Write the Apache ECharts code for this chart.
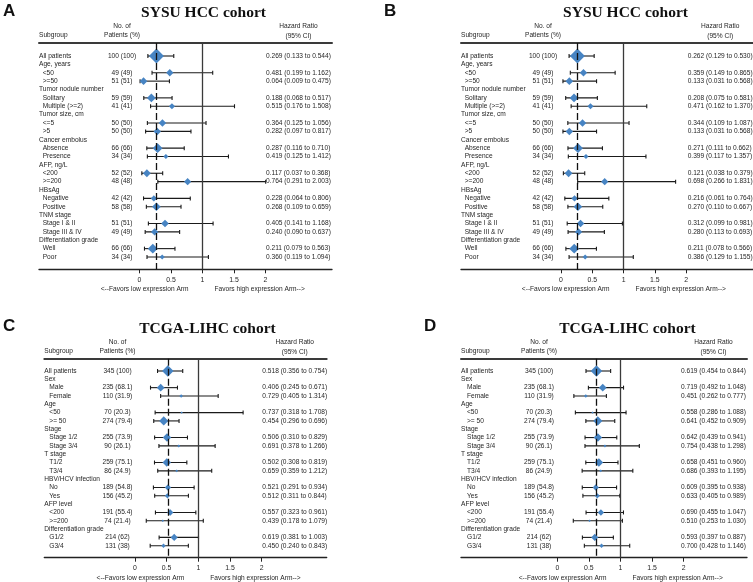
<!DOCTYPE html>
<html><head><meta charset="utf-8">
<script src="https://cdn.jsdelivr.net/npm/echarts@6/dist/echarts.min.js"></script>
<style>html,body{margin:0;padding:0;background:#fff}#c{width:753px;height:582px}</style>
</head><body><div id="c"></div>
<script>
// ---------- data ----------
const tickValues = [0, 0.5, 1, 1.5, 2];

const sysuSubgroups = ['All patients','Age, years','<50','>=50','Tumor nodule number','Solitary','Multiple (>=2)','Tumor size, cm','<=5','>5','Cancer embolus','Absence','Presence','AFP, ng/L','<200','>=200','HBsAg','Negative','Positive','TNM stage','Stage I & II','Stage III & IV','Differentiation grade','Well','Poor'];
const sysuN   = [100,null,49,51,null,59,41,null,50,50,null,66,34,null,52,48,null,42,58,null,51,49,null,66,34];
const sysuPct = [100,null,49,51,null,59,41,null,50,50,null,66,34,null,52,48,null,42,58,null,51,49,null,66,34];

const sysuA_HR = [0.269,null,0.481,0.064,null,0.188,0.515,null,0.364,0.282,null,0.287,0.419,null,0.117,0.764,null,0.228,0.268,null,0.405,0.240,null,0.211,0.360];
const sysuA_Lo = [0.133,null,0.199,0.009,null,0.068,0.176,null,0.125,0.097,null,0.116,0.125,null,0.037,0.291,null,0.064,0.109,null,0.141,0.090,null,0.079,0.119];
const sysuA_Hi = [0.544,null,1.162,0.475,null,0.517,1.508,null,1.056,0.817,null,0.710,1.412,null,0.368,2.003,null,0.806,0.659,null,1.168,0.637,null,0.563,1.094];

const sysuB_HR = [0.262,null,0.359,0.133,null,0.208,0.471,null,0.344,0.133,null,0.271,0.399,null,0.121,0.698,null,0.216,0.270,null,0.312,0.280,null,0.211,0.386];
const sysuB_Lo = [0.129,null,0.149,0.031,null,0.075,0.162,null,0.109,0.031,null,0.111,0.117,null,0.038,0.266,null,0.061,0.110,null,0.099,0.113,null,0.078,0.129];
const sysuB_Hi = [0.530,null,0.865,0.568,null,0.581,1.370,null,1.087,0.568,null,0.662,1.357,null,0.379,1.831,null,0.764,0.667,null,0.981,0.693,null,0.566,1.155];

const tcgaSubgroups = ['All patients','Sex','Male','Female','Age','<50','>= 50','Stage','Stage 1/2','Stage 3/4','T stage','T1/2','T3/4','HBV/HCV infection','No','Yes','AFP level','<200','>=200','Differentiation grade','G1/2','G3/4'];
const tcgaN   = [345,null,235,110,null,70,274,null,255,90,null,259,86,null,189,156,null,191,74,null,214,131];
const tcgaPct = [100,null,68.1,31.9,null,20.3,79.4,null,73.9,26.1,null,75.1,24.9,null,54.8,45.2,null,55.4,21.4,null,62,38];

const tcgaC_HR = [0.518,null,0.406,0.729,null,0.737,0.454,null,0.506,0.691,null,0.502,0.659,null,0.521,0.512,null,0.557,0.439,null,0.619,0.450];
const tcgaC_Lo = [0.356,null,0.245,0.405,null,0.318,0.296,null,0.310,0.378,null,0.308,0.359,null,0.291,0.311,null,0.323,0.178,null,0.381,0.240];
const tcgaC_Hi = [0.754,null,0.671,1.314,null,1.708,0.696,null,0.829,1.266,null,0.819,1.212,null,0.934,0.844,null,0.961,1.079,null,1.003,0.843];

const tcgaD_HR = [0.619,null,0.719,0.451,null,0.558,0.641,null,0.642,0.754,null,0.658,0.686,null,0.609,0.633,null,0.690,0.510,null,0.593,0.700];
const tcgaD_Lo = [0.454,null,0.492,0.262,null,0.286,0.452,null,0.439,0.438,null,0.451,0.393,null,0.395,0.405,null,0.455,0.253,null,0.397,0.428];
const tcgaD_Hi = [0.844,null,1.048,0.777,null,1.088,0.909,null,0.941,1.298,null,0.960,1.195,null,0.938,0.989,null,1.047,1.030,null,0.887,1.146];

// ---------- layout ----------
const SANS = '"Liberation Sans", Arial, Helvetica, sans-serif';
const SERIF = '"Liberation Serif", "Times New Roman", serif';
const TXT = '#262626';
const BLUE = '#4784c3';
const FS = 6.6;

const panels = [
  {letter:'A', letterX:3,   title:'SYSU HCC cohort', titleX:203.5, labels:sysuSubgroups, n:sysuN, pct:sysuPct, hr:sysuA_HR, lo:sysuA_Lo, hi:sysuA_Hi,
   L:39, R:332, top:43, bottom:269.3, zero:139.5, unit:63, row0:56, step:8.375, countX:122, ciX:266, indent:3.7, maxSize:15},
  {letter:'B', letterX:384, title:'SYSU HCC cohort', titleX:625.5, labels:sysuSubgroups, n:sysuN, pct:sysuPct, hr:sysuB_HR, lo:sysuB_Lo, hi:sysuB_Hi,
   L:461, R:753, top:43, bottom:269.3, zero:561, unit:62.6, row0:56, step:8.375, countX:543, ciX:687.7, indent:3.7, maxSize:15},
  {letter:'C', letterX:3,   title:'TCGA-LIHC cohort', titleX:207.5, labels:tcgaSubgroups, n:tcgaN, pct:tcgaPct, hr:tcgaC_HR, lo:tcgaC_Lo, hi:tcgaC_Hi,
   L:44.3, R:326.7, top:358.8, bottom:557.7, zero:135, unit:63.3, row0:371, step:8.32, countX:117.5, ciX:262.3, indent:5, maxSize:11.5},
  {letter:'D', letterX:424, title:'TCGA-LIHC cohort', titleX:627.5, labels:tcgaSubgroups, n:tcgaN, pct:tcgaPct, hr:tcgaD_HR, lo:tcgaD_Lo, hi:tcgaD_Hi,
   L:461, R:747, top:358.8, bottom:557.7, zero:557.3, unit:63.2, row0:371, step:8.32, countX:539, ciX:681, indent:6, maxSize:11.5}
];

function f3(v){ return v.toFixed(3); }
function txt(text, x, y, align, font, fill){
  return {type:'text', x:x, y:y, silent:true,
    style:{text:text, font:font, fill:fill||TXT, align:align, textAlign:align, verticalAlign:'middle', textVerticalAlign:'middle'}};
}

const grids=[], xAxes=[], yAxes=[], series=[], graphics=[];

panels.forEach((p, k) => {
  const xmin = (p.L - p.zero)/p.unit, xmax = (p.R - p.zero)/p.unit;
  const ymin = -(p.row0 - p.top)/p.step, ymax = (p.bottom - p.row0)/p.step;
  grids.push({left:p.L, top:p.top, width:p.R - p.L, height:p.bottom - p.top, containLabel:false});
  const xi = xAxes.length;
  xAxes.push({gridIndex:k, type:'value', min:xmin, max:xmax, position:'bottom',
    axisLine:{show:true, onZero:false, lineStyle:{color:'#222', width:1.3}},
    axisTick:{show:true, customValues:tickValues, length:4, lineStyle:{color:'#222', width:1}},
    axisLabel:{show:true, customValues:tickValues, formatter:v => String(v), fontSize:6.9, color:TXT, fontFamily:SANS, margin:7},
    splitLine:{show:false}});
  xAxes.push({gridIndex:k, type:'value', min:xmin, max:xmax, position:'top',
    axisLine:{show:true, onZero:false, lineStyle:{color:'#3a3a3a', width:2}},
    axisTick:{show:false}, axisLabel:{show:false}, splitLine:{show:false}});
  const yi = yAxes.length;
  yAxes.push({gridIndex:k, type:'value', inverse:true, min:ymin, max:ymax, show:false});

  // text rows
  series.push({type:'custom', xAxisIndex:xi, yAxisIndex:yi, silent:true, clip:false, z:5,
    data:p.labels.map((lab,i) => [0, i]),
    encode:{x:0, y:1},
    renderItem:(params, api) => {
      const i = api.value(1);
      const y = api.coord([0, i])[1];
      const has = p.hr[i] != null;
      const font = FS + 'px ' + SANS;
      const ch = [txt(p.labels[i], p.L + (has && i > 0 ? p.indent : 0), y, 'left', font)];
      if (p.n[i] != null) ch.push(txt(p.n[i] + ' (' + p.pct[i] + ')', p.countX, y, 'center', font));
      if (has) ch.push(txt(f3(p.hr[i]) + ' (' + f3(p.lo[i]) + ' to ' + f3(p.hi[i]) + ')', p.ciX, y, 'left', font));
      return {type:'group', children:ch};
    }});

  // CI whiskers
  const ciData = [];
  p.hr.forEach((v,i) => { if (v != null) ciData.push([p.lo[i], p.hi[i], i]); });
  series.push({type:'custom', xAxisIndex:xi, yAxisIndex:yi, silent:true, clip:false, z:3,
    data:ciData, encode:{x:[0,1], y:2},
    renderItem:(params, api) => {
      const a = api.coord([api.value(0), api.value(2)]);
      const b = api.coord([api.value(1), api.value(2)]);
      const st = {stroke:'#1a1a1a', lineWidth:1.1};
      return {type:'group', children:[
        {type:'line', shape:{x1:a[0], y1:a[1], x2:b[0], y2:b[1]}, style:st},
        {type:'line', shape:{x1:a[0], y1:a[1]-2, x2:a[0], y2:a[1]+2}, style:st},
        {type:'line', shape:{x1:b[0], y1:b[1]-2, x2:b[0], y2:b[1]+2}, style:st}
      ]};
    }});

  // point estimates (diamonds sized by share of patients)
  const ptData = [];
  p.hr.forEach((v,i) => { if (v != null) ptData.push([v, i, p.maxSize * p.pct[i] / 100]); });
  series.push({type:'scatter', xAxisIndex:xi, yAxisIndex:yi, silent:true, z:4,
    symbol:'diamond', symbolSize:val => val[2], itemStyle:{color:BLUE, opacity:1},
    data:ptData,
    markLine:{silent:true, symbol:'none', label:{show:false}, animation:false,
      data:[
        {xAxis:1, lineStyle:{color:'#3a3a3a', width:1.3, type:'solid'}},
        {xAxis:p.hr[0], lineStyle:{color:'#111', width:1.3, type:[7,3]}}
      ]}
  });

  // header, title, letter, footer texts
  const hf = FS + 'px ' + SANS;
  graphics.push(txt(p.letter, p.letterX, p.top - 32, 'left', 'bold 17px ' + SANS, '#111'));
  graphics.push(txt(p.title, p.titleX, p.top - 30, 'center', 'bold 15.5px ' + SERIF, '#111'));
  graphics.push(txt('Subgroup', p.L, p.top - 7.5, 'left', hf));
  graphics.push(txt('No. of', p.countX, p.top - 17, 'center', hf));
  graphics.push(txt('Patients (%)', p.countX, p.top - 7.5, 'center', hf));
  graphics.push(txt('Hazard Ratio', p.ciX + 32.5, p.top - 16.5, 'center', hf));
  graphics.push(txt('(95% CI)', p.ciX + 32.5, p.top - 6.5, 'center', hf));
  graphics.push(txt('<--Favors low expression Arm', p.zero + p.unit - 14, p.bottom + 20, 'right', hf));
  graphics.push(txt('Favors high expression Arm-->', p.zero + p.unit + 12, p.bottom + 20, 'left', hf));
});

const chart = echarts.init(document.getElementById('c'), null, {renderer:'canvas'});
chart.setOption({
  animation:false,
  backgroundColor:'#ffffff',
  grid:grids, xAxis:xAxes, yAxis:yAxes, series:series,
  graphic:{elements:graphics}
});
</script>
</body></html>
